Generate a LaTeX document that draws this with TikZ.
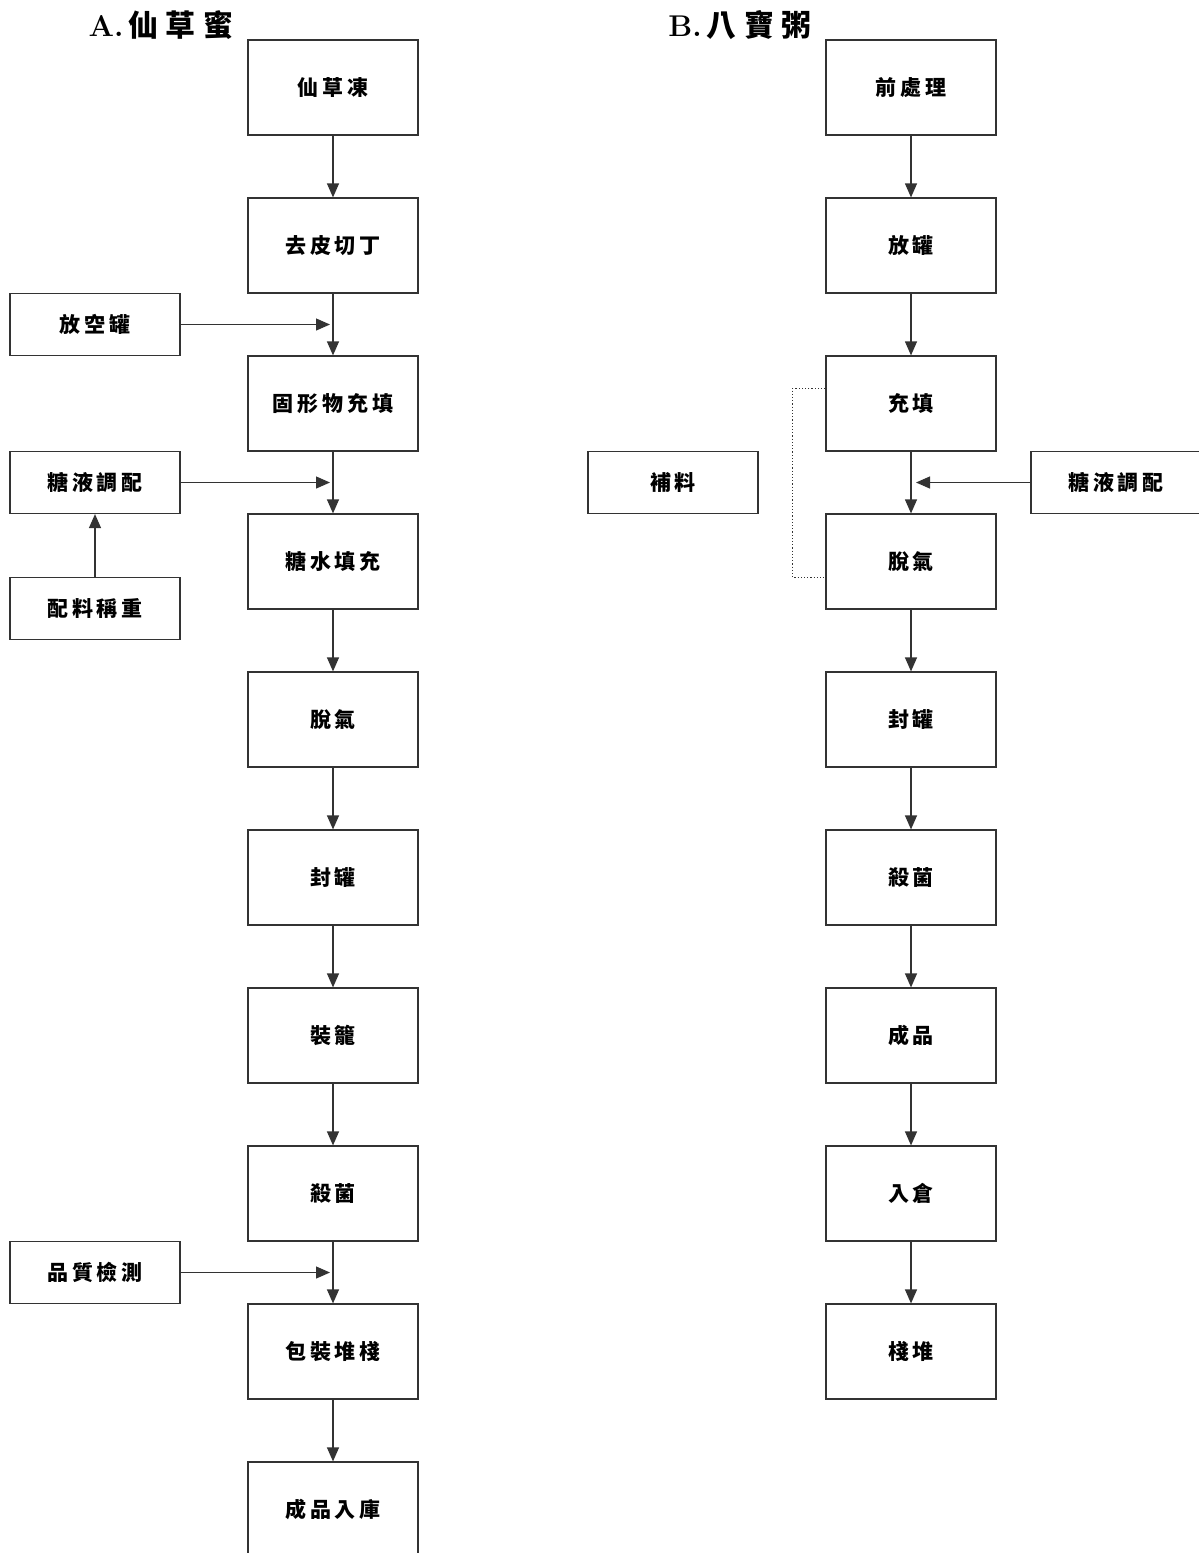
\documentclass[tikz,border=0pt]{standalone}
\usepackage{fontspec}
\newfontfamily\cjk[LetterSpace=18]{Noto Sans CJK TC}
\newfontfamily\cjktitle[LetterSpace=25]{Noto Sans CJK TC}
\usetikzlibrary{arrows.meta}

\begin{document}
\begin{tikzpicture}[x=0.5pt,y=-0.5pt,->,>={Triangle[length=7pt,width=6pt]},
            line width=0.6pt,draw=black!80,
            stage/.style={draw=black!80,rectangle,minimum width=85pt,
              minimum height=47.5pt,inner sep=0pt,
              font=\cjk\bfseries\fontsize{10.5}{12}\selectfont},
            side/.style={stage,minimum height=31pt},
            title/.style={font=\cjktitle\bfseries\fontsize{15}{18}\selectfont},
            loopline/.style={-,densely dotted,draw=black!80}]

          \useasboundingbox (0,0) rectangle (1199,1553);

          \node[title] (TA) at (161, 25) {{\rmfamily\bfseries A.}\,仙草蜜};
          \node[title] (TB) at (740, 25) {{\rmfamily\bfseries B.}\,八寶粥};

          % A column
          \node[stage] (A1)  at (333,   87.5) {仙草凍};
          \node[stage] (A2)  at (333,  245.5) {去皮切丁};
          \node[stage] (A3)  at (333,  403.5) {固形物充填};
          \node[stage] (A4)  at (333,  561.5) {糖水填充};
          \node[stage] (A5)  at (333,  719.5) {脫氣};
          \node[stage] (A6)  at (333,  877.5) {封罐};
          \node[stage] (A7)  at (333, 1035.5) {裝籠};
          \node[stage] (A8)  at (333, 1193.5) {殺菌};
          \node[stage] (A9)  at (333, 1351.5) {包裝堆棧};
          \node[stage] (A10) at (333, 1509.5) {成品入庫};

          \node[side] (Acan)   at (95,  324.5) {放空罐};
          \node[side] (Asyrup) at (95,  482.5) {糖液調配};
          \node[side] (Aweigh) at (95,  608.5) {配料稱重};
          \node[side] (Aqc)    at (95, 1272.5) {品質檢測};

          \coordinate (Acanin)   at (330,  324.5);
          \coordinate (Asyrupin) at (330,  482.5);
          \coordinate (Aqcin)    at (330, 1272.5);

          % B column
          \node[stage] (B1) at (911,   87.5) {前處理};
          \node[stage] (B2) at (911,  245.5) {放罐};
          \node[stage] (B3) at (911,  403.5) {充填};
          \node[stage] (B4) at (911,  561.5) {脫氣};
          \node[stage] (B5) at (911,  719.5) {封罐};
          \node[stage] (B6) at (911,  877.5) {殺菌};
          \node[stage] (B7) at (911, 1035.5) {成品};
          \node[stage] (B8) at (911, 1193.5) {入倉};
          \node[stage] (B9) at (911, 1351.5) {棧堆};

          \node[side] (Bextra) at (673,  482.5) {補料};
          \node[side] (Bsyrup) at (1116, 482.5) {糖液調配};

          \coordinate (Bsyrupin) at (916, 482.5);

          \path (A1) edge (A2)
                (A2) edge (A3)
                (A3) edge (A4)
                (A4) edge (A5)
                (A5) edge (A6)
                (A6) edge (A7)
                (A7) edge (A8)
                (A8) edge (A9)
                (A9) edge (A10)
                (Acan.east)   edge (Acanin)
                (Asyrup.east) edge (Asyrupin)
                (Aweigh)      edge (Asyrup)
                (Aqc.east)    edge (Aqcin);

          \path (B1) edge (B2)
                (B2) edge (B3)
                (B3) edge (B4)
                (B4) edge (B5)
                (B5) edge (B6)
                (B6) edge (B7)
                (B7) edge (B8)
                (B8) edge (B9)
                (Bsyrup.west) edge (Bsyrupin);

          \draw[loopline] ([yshift=-16.5pt]B3.north west) -- ++(-33,0)
                |- ([yshift=-32pt]B4.north west);
        \end{tikzpicture}
\end{document}
